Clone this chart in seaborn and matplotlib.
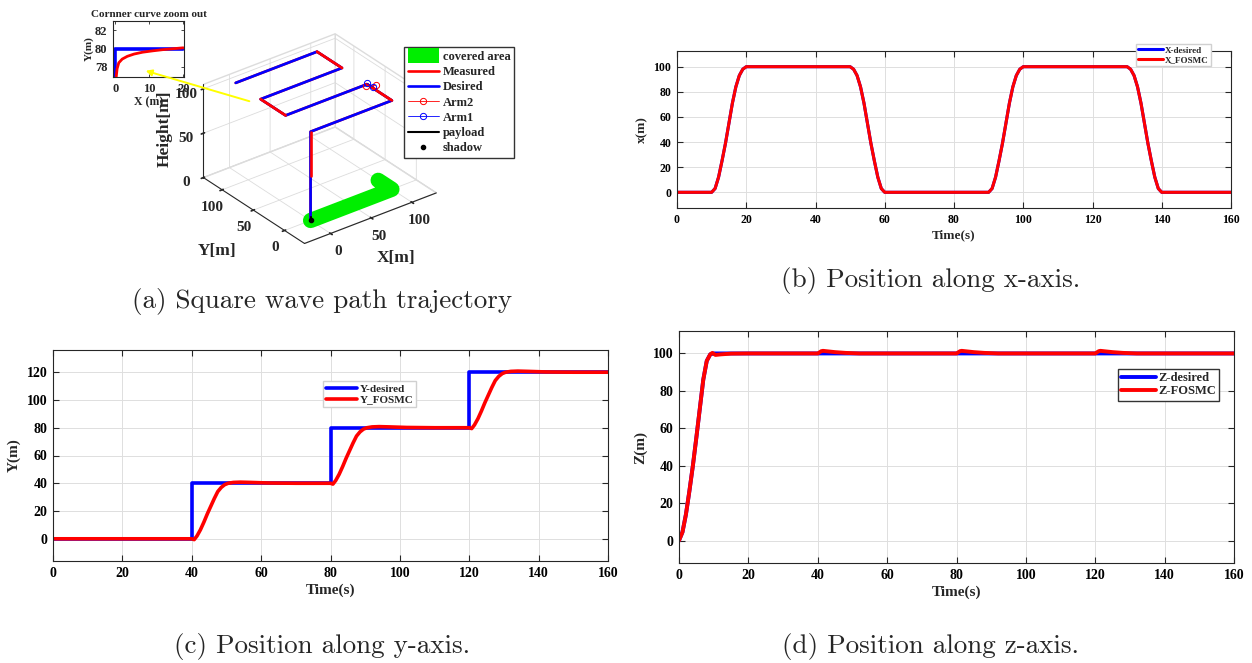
import numpy as np
import seaborn as sns
import matplotlib.pyplot as plt
from matplotlib.patches import Patch, Rectangle, FancyArrowPatch
from matplotlib.legend_handler import HandlerPatch

# ---------------- data ----------------
# (b) position along x
t_x = [0, 10, 11, 12, 13, 14, 15, 16, 17, 18, 19, 20,
       50, 51, 52, 53, 54, 55, 56, 57, 58, 59, 60,
       90, 91, 92, 93, 94, 95, 96, 97, 98, 99, 100,
       130, 131, 132, 133, 134, 135, 136, 137, 138, 139, 140, 160]
x_fosmc = [0, 0, 3, 12, 25, 39, 55, 71, 84, 93, 98, 100,
           100, 98, 93, 84, 71, 55, 39, 25, 12, 3, 0,
           0, 3, 12, 25, 39, 55, 71, 84, 93, 98, 100,
           100, 98, 93, 84, 71, 55, 39, 25, 12, 3, 0, 0]
x_desired = list(x_fosmc)  # hidden under the measured curve

# (c) position along y
t_yd = [0, 40, 40, 80, 80, 120, 120, 160]
y_desired = [0, 0, 40, 40, 80, 80, 120, 120]
t_y = [0, 40, 40.7, 41.5, 42.5, 43.5, 44.5, 45.5, 46.5, 47.5, 48.5, 49.5, 50.5, 52, 54, 57, 62, 70,
       80, 80.7, 81.5, 82.5, 83.5, 84.5, 85.5, 86.5, 87.5, 88.5, 89.5, 90.5, 92, 94, 97, 102, 110,
       120, 120.7, 121.5, 122.5, 123.5, 124.5, 125.5, 126.5, 127.5, 128.5, 129.5, 130.5, 132, 134, 137,
       142, 150, 160]
y_fosmc = [0, 0, -0.6, 2, 6.5, 12, 18, 23.5, 29, 34, 37, 39, 40, 40.6, 40.8, 40.6, 40.2, 40,
           40, 39.4, 42, 46.5, 52, 58, 63.5, 69, 74, 77, 79, 80, 80.6, 80.8, 80.6, 80.2, 80,
           80, 79.4, 82, 86.5, 92, 98, 103.5, 109, 114, 117, 119, 120, 120.6, 120.8, 120.6,
           120.2, 120, 120]

# (d) position along z
t_zd = [0, 1, 2, 3, 4, 5, 6, 7, 8, 9, 10, 160]
z_desired = [0, 4.5, 14, 26.5, 40, 55, 70.5, 86, 96, 99.5, 100, 100]
t_z = [0, 1, 2, 3, 4, 5, 6, 7, 8, 9, 9.6, 10.5, 12, 15, 20,
       40, 41, 41.5, 43, 45, 48, 52, 60,
       80, 81, 81.5, 83, 85, 88, 92, 100,
       120, 121, 121.5, 123, 125, 128, 132, 140, 160]
z_fosmc = [0, 4.5, 14, 26.5, 40, 55, 70.5, 86, 96, 99.5, 100.3, 99.2, 99.5, 99.9, 100,
           100, 101.2, 101.4, 101.1, 100.7, 100.3, 100, 100,
           100, 101.2, 101.4, 101.1, 100.7, 100.3, 100, 100,
           100, 101.2, 101.4, 101.1, 100.7, 100.3, 100, 100, 100]

# (a) 3-D square wave path (corners), ground coverage, arm markers
path_x = [0, 0, 0, 100, 100, 0, 0, 100, 100, 0]
path_y = [0, 0, 0, 0, 40, 40, 80, 80, 120, 120]
path_z = [0, 50, 100, 100, 100, 100, 100, 100, 100, 100]
red_on_top = [(1, 2), (3, 4), (5, 6), (7, 8)]  # segments where the measured line shows
cover_x = [0, 100, 100]
cover_y = [0, 0, 22]
cover_z = [0, 0, 0]
arm2_x, arm2_y, arm2_z = [100, 106], [42, 33], [97, 100]
arm1_x, arm1_y, arm1_z = [100, 104], [40, 35], [101, 98]
payload_x, payload_y, payload_z = [0, 0], [0, 0], [0, 4]
shadow_x, shadow_y, shadow_z = [0], [0], [0]

# inset: corner curve zoom
inset_xd = [0, 0, 20]
inset_yd = [76.5, 80, 80]
inset_xm = [0.25, 0.5, 1, 2, 3.5, 5.5, 8, 11, 14, 17, 20]
inset_ym = [76.9, 77.8, 78.45, 78.85, 79.15, 79.4, 79.6, 79.75, 79.88, 79.98, 80.08]

# ---------------- style ----------------
sns.set_theme(style="ticks")
plt.rcParams['font.family'] = ['Liberation Serif', 'DejaVu Serif']
plt.rcParams['font.weight'] = 'bold'
plt.rcParams['axes.labelweight'] = 'bold'
plt.rcParams['axes.titleweight'] = 'bold'
plt.rcParams['grid.color'] = '#dedede'
plt.rcParams['grid.linewidth'] = 0.7
plt.rcParams['axes.edgecolor'] = '#262626'

W, H = 1252, 663
fig = plt.figure(figsize=(W / 100, H / 100), dpi=100)
BLUE, RED, GREEN = '#0000ff', '#ff0000', '#00ee00'


def px_rect(l, t, r, b):
    return [l / W, 1 - b / H, (r - l) / W, (b - t) / H]


def time_panel(rect, series, ylim, yticks, ylabel, fs, lw, leg):
    ax = fig.add_axes(px_rect(*rect))
    for t, v, color, label in series:
        sns.lineplot(x=t, y=v, color=color, lw=lw, label=label, ax=ax,
                     estimator=None, sort=False)
    ax.set_xlim(0, 160)
    ax.set_xticks(range(0, 161, 20))
    ax.set_ylim(*ylim)
    ax.set_yticks(yticks)
    ax.grid(True)
    ax.tick_params(direction='in', top=True, right=True, length=4, width=0.8,
                   labelsize=fs, pad=4, colors='#262626', labelcolor='black')
    for sp in ax.spines.values():
        sp.set_linewidth(0.8)
    ax.set_xlabel('Time(s)', fontsize=fs + 1, labelpad=3)
    ax.set_ylabel(ylabel, fontsize=fs + 1, labelpad=4)
    right, top, lfs, edge = leg
    ax.legend(loc='upper right', bbox_to_anchor=(right / W, 1 - top / H),
              bbox_transform=fig.transFigure, fontsize=lfs, frameon=True,
              fancybox=False, edgecolor=edge, framealpha=1, borderpad=0.25,
              labelspacing=0.1, handlelength=2.8, handletextpad=0.2,
              borderaxespad=0)
    return ax


# (b)
time_panel((677, 51, 1231, 208),
           [(t_x, x_desired, BLUE, 'X-desired'), (t_x, x_fosmc, RED, 'X_FOSMC')],
           (-12.5, 112.5), range(0, 101, 20), 'x(m)', 8.5, 2.2,
           (1211, 44, 6.5, '#d0d0d0'))
# (c)
time_panel((53, 350, 608, 561),
           [(t_yd, y_desired, BLUE, 'Y-desired'), (t_y, y_fosmc, RED, 'Y_FOSMC')],
           (-16, 136), range(0, 121, 20), 'Y(m)', 10, 2.6,
           (416, 381, 8, '#d0d0d0'))
# (d)
time_panel((679, 331, 1234, 563),
           [(t_zd, z_desired, BLUE, 'Z-desired'), (t_z, z_fosmc, RED, 'Z-FOSMC')],
           (-12, 112), range(0, 101, 20), 'Z(m)', 10, 2.8,
           (1219, 369, 9, '#333333'))

# (a) 3-D trajectory
ax3 = fig.add_axes(px_rect(146, 0, 486, 285), projection='3d', proj_type='ortho',
                   computed_zorder=False)
ax3.plot(cover_x, cover_y, cover_z, color=GREEN, lw=11, solid_capstyle='round')
meas, = ax3.plot(path_x, path_y, path_z, color=RED, lw=1.9, label='Measured')
des, = ax3.plot(path_x, path_y, path_z, color=BLUE, lw=1.9, label='Desired')
for i, j in red_on_top:
    ax3.plot(path_x[i:j + 1], path_y[i:j + 1], path_z[i:j + 1], color=RED, lw=1.9)
arm2, = ax3.plot(arm2_x, arm2_y, arm2_z, color=RED, lw=0.6, marker='o', ms=4.5,
                 mfc='none', mew=0.7, label='Arm2')
arm1, = ax3.plot(arm1_x, arm1_y, arm1_z, color=BLUE, lw=0.6, marker='o', ms=4.5,
                 mfc='none', mew=0.7, label='Arm1')
pay, = ax3.plot(payload_x, payload_y, payload_z, color='black', lw=1.5, label='payload')
shad, = ax3.plot(shadow_x, shadow_y, shadow_z, color='black', ls='none', marker='.',
                 ms=6, label='shadow')
ax3.set_xlim(-32, 130)
ax3.set_ylim(-32, 130)
ax3.set_zlim(0, 105)
ax3.set_box_aspect((162, 162, 105), zoom=0.88)
ax3.view_init(elev=30, azim=-127.5)
ax3.set_xticks([0, 50, 100])
ax3.set_yticks([0, 50, 100])
ax3.set_zticks([0, 50, 100])
ax3.tick_params(labelsize=11, pad=0)
ax3.set_xlabel('X[m]', fontsize=12.5, labelpad=6)
ax3.set_ylabel('Y[m]', fontsize=12.5, labelpad=9)
ax3.set_zlabel('Height[m]', fontsize=12.5, labelpad=-3)
for axis in (ax3.xaxis, ax3.yaxis, ax3.zaxis):
    axis.set_pane_color((1, 1, 1, 1))
    axis.pane.set_edgecolor('#dcdcdc')
    axis._axinfo['grid'].update(color='#dcdcdc', linewidth=0.6)
    axis.line.set_color('#262626')
    axis.line.set_linewidth(0.8)
ax3.zaxis.set_ticks_position('upper')
ax3.zaxis.set_label_position('upper')


class TallPatch(HandlerPatch):
    def create_artists(self, legend, orig_handle, xdescent, ydescent, width, height,
                       fontsize, trans):
        p = Rectangle((-xdescent, -ydescent - 0.35 * height), width, height * 1.75,
                      facecolor=orig_handle.get_facecolor(), edgecolor='none',
                      transform=trans)
        return [p]


cover_handle = Patch(facecolor=GREEN, edgecolor='none', label='covered area')
fig.legend(handles=[cover_handle, meas, des, arm2, arm1, pay, shad],
           loc='upper left', bbox_to_anchor=(404 / W, 1 - 47 / H),
           bbox_transform=fig.transFigure, fontsize=9, frameon=True, fancybox=False,
           edgecolor='#333333', framealpha=1, borderpad=0.3, labelspacing=0.26,
           handlelength=2.5, handletextpad=0.3, borderaxespad=0,
           handler_map={Patch: TallPatch()})

# inset: corner curve zoom out
axi = fig.add_axes(px_rect(113, 21, 184, 77))
sns.lineplot(x=inset_xd, y=inset_yd, color=BLUE, lw=2.6, ax=axi, estimator=None, sort=False)
sns.lineplot(x=inset_xm, y=inset_ym, color=RED, lw=2.0, ax=axi, estimator=None, sort=False)
axi.set_xlim(-0.7, 20.2)
axi.set_ylim(76.9, 83)
axi.set_xticks([0, 10, 20])
axi.set_yticks([78, 80, 82])
axi.tick_params(direction='in', top=True, right=True, length=2.5, width=0.6,
                labelsize=9, pad=4)
axi.set_title('Cornner curve zoom out', fontsize=8, pad=3)
axi.set_xlabel('X (m)', fontsize=8.5, labelpad=1)
axi.set_ylabel('Y(m)', fontsize=8, labelpad=1)
for sp in axi.spines.values():
    sp.set_linewidth(0.8)

fig.add_artist(FancyArrowPatch((252 / W, 1 - 102 / H), (143 / W, 1 - 70 / H),
                               transform=fig.transFigure, arrowstyle='-|>',
                               mutation_scale=9, color='#ffff00', lw=1.4))

# captions
cap = dict(family='cmr10', fontsize=19.5, fontweight='normal', ha='center', va='center')
fig.text(322 / W, 1 - 302 / H, '(a) Square wave path trajectory', **cap)
fig.text(931 / W, 1 - 280 / H, '(b) Position along x-axis.', **cap)
fig.text(322 / W, 1 - 647 / H, '(c) Position along y-axis.', **cap)
fig.text(931 / W, 1 - 647 / H, '(d) Position along z-axis.', **cap)

fig.savefig('out.png', dpi=100)
